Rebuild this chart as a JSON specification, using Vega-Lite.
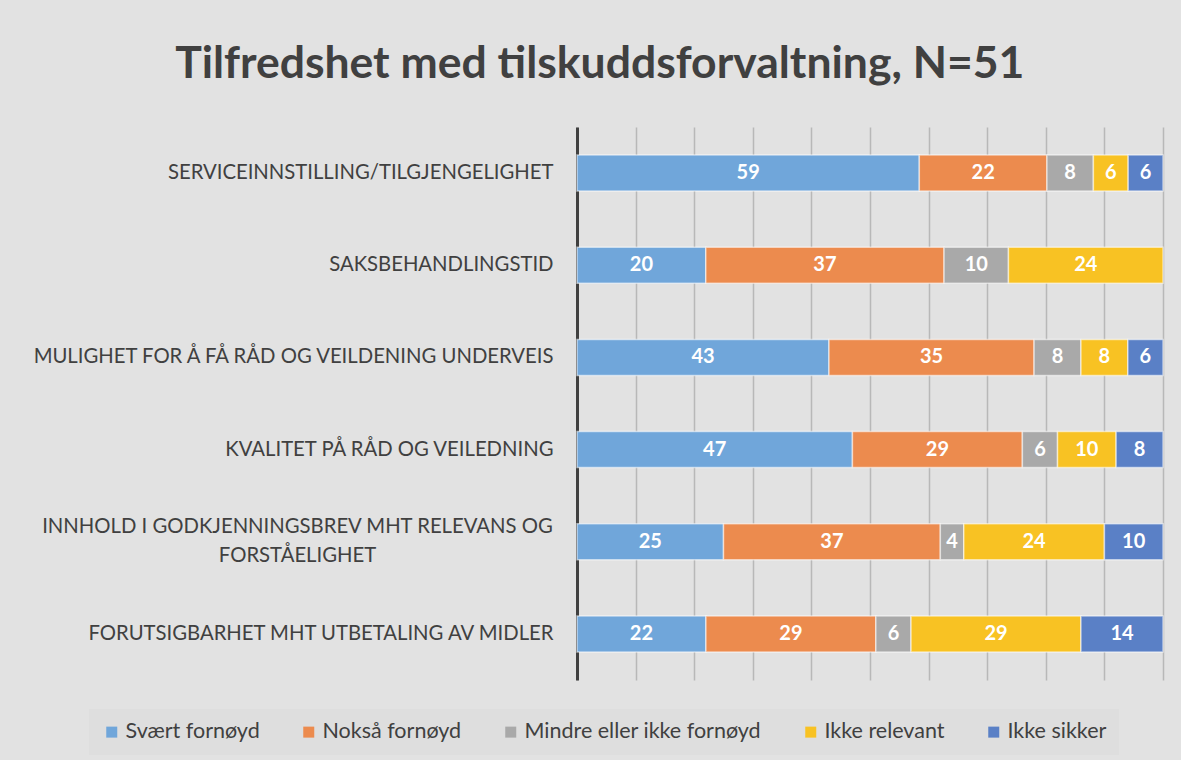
{
  "$schema": "https://vega.github.io/schema/vega-lite/v6.json",
  "width": 586,
  "height": 553,
  "autosize": {"type": "none"},
  "padding": {"left": 577, "top": 127, "right": 18, "bottom": 80},
  "background": "#e2e2e2",
  "title": {
    "text": "Tilfredshet med tilskuddsforvaltning, N=51",
    "font": "Lato",
    "fontSize": 44.5,
    "fontWeight": "bold",
    "color": "#404040",
    "anchor": "middle",
    "frame": "bounds",
    "baseline": "alphabetic",
    "offset": 5,
    "dx": 3
  },
  "data": {
    "values": [
      {"kategori": "SERVICEINNSTILLING/TILGJENGELIGHET", "svar": "Svært fornøyd", "rekkefolge": 1, "verdi": 59},
      {"kategori": "SERVICEINNSTILLING/TILGJENGELIGHET", "svar": "Nokså fornøyd", "rekkefolge": 2, "verdi": 22},
      {"kategori": "SERVICEINNSTILLING/TILGJENGELIGHET", "svar": "Mindre eller ikke fornøyd", "rekkefolge": 3, "verdi": 8},
      {"kategori": "SERVICEINNSTILLING/TILGJENGELIGHET", "svar": "Ikke relevant", "rekkefolge": 4, "verdi": 6},
      {"kategori": "SERVICEINNSTILLING/TILGJENGELIGHET", "svar": "Ikke sikker", "rekkefolge": 5, "verdi": 6},
      {"kategori": "SAKSBEHANDLINGSTID ", "svar": "Svært fornøyd", "rekkefolge": 1, "verdi": 20},
      {"kategori": "SAKSBEHANDLINGSTID ", "svar": "Nokså fornøyd", "rekkefolge": 2, "verdi": 37},
      {"kategori": "SAKSBEHANDLINGSTID ", "svar": "Mindre eller ikke fornøyd", "rekkefolge": 3, "verdi": 10},
      {"kategori": "SAKSBEHANDLINGSTID ", "svar": "Ikke relevant", "rekkefolge": 4, "verdi": 24},
      {"kategori": "MULIGHET FOR Å FÅ RÅD OG VEILDENING UNDERVEIS", "svar": "Svært fornøyd", "rekkefolge": 1, "verdi": 43},
      {"kategori": "MULIGHET FOR Å FÅ RÅD OG VEILDENING UNDERVEIS", "svar": "Nokså fornøyd", "rekkefolge": 2, "verdi": 35},
      {"kategori": "MULIGHET FOR Å FÅ RÅD OG VEILDENING UNDERVEIS", "svar": "Mindre eller ikke fornøyd", "rekkefolge": 3, "verdi": 8},
      {"kategori": "MULIGHET FOR Å FÅ RÅD OG VEILDENING UNDERVEIS", "svar": "Ikke relevant", "rekkefolge": 4, "verdi": 8},
      {"kategori": "MULIGHET FOR Å FÅ RÅD OG VEILDENING UNDERVEIS", "svar": "Ikke sikker", "rekkefolge": 5, "verdi": 6},
      {"kategori": "KVALITET PÅ RÅD OG VEILEDNING", "svar": "Svært fornøyd", "rekkefolge": 1, "verdi": 47},
      {"kategori": "KVALITET PÅ RÅD OG VEILEDNING", "svar": "Nokså fornøyd", "rekkefolge": 2, "verdi": 29},
      {"kategori": "KVALITET PÅ RÅD OG VEILEDNING", "svar": "Mindre eller ikke fornøyd", "rekkefolge": 3, "verdi": 6},
      {"kategori": "KVALITET PÅ RÅD OG VEILEDNING", "svar": "Ikke relevant", "rekkefolge": 4, "verdi": 10},
      {"kategori": "KVALITET PÅ RÅD OG VEILEDNING", "svar": "Ikke sikker", "rekkefolge": 5, "verdi": 8},
      {"kategori": "INNHOLD I GODKJENNINGSBREV MHT RELEVANS OG FORSTÅELIGHET", "svar": "Svært fornøyd", "rekkefolge": 1, "verdi": 25},
      {"kategori": "INNHOLD I GODKJENNINGSBREV MHT RELEVANS OG FORSTÅELIGHET", "svar": "Nokså fornøyd", "rekkefolge": 2, "verdi": 37},
      {"kategori": "INNHOLD I GODKJENNINGSBREV MHT RELEVANS OG FORSTÅELIGHET", "svar": "Mindre eller ikke fornøyd", "rekkefolge": 3, "verdi": 4},
      {"kategori": "INNHOLD I GODKJENNINGSBREV MHT RELEVANS OG FORSTÅELIGHET", "svar": "Ikke relevant", "rekkefolge": 4, "verdi": 24},
      {"kategori": "INNHOLD I GODKJENNINGSBREV MHT RELEVANS OG FORSTÅELIGHET", "svar": "Ikke sikker", "rekkefolge": 5, "verdi": 10},
      {"kategori": "FORUTSIGBARHET MHT UTBETALING AV MIDLER", "svar": "Svært fornøyd", "rekkefolge": 1, "verdi": 22},
      {"kategori": "FORUTSIGBARHET MHT UTBETALING AV MIDLER", "svar": "Nokså fornøyd", "rekkefolge": 2, "verdi": 29},
      {"kategori": "FORUTSIGBARHET MHT UTBETALING AV MIDLER", "svar": "Mindre eller ikke fornøyd", "rekkefolge": 3, "verdi": 6},
      {"kategori": "FORUTSIGBARHET MHT UTBETALING AV MIDLER", "svar": "Ikke relevant", "rekkefolge": 4, "verdi": 29},
      {"kategori": "FORUTSIGBARHET MHT UTBETALING AV MIDLER", "svar": "Ikke sikker", "rekkefolge": 5, "verdi": 14}
    ]
  },
  "encoding": {
    "y": {
      "field": "kategori",
      "type": "nominal",
      "sort": null,
      "scale": {"paddingInner": 0.61, "paddingOuter": 0.305},
      "axis": {
        "title": null,
        "ticks": false,
        "domainColor": "#404040",
        "domainWidth": 3,
        "labelFont": "Lato",
        "labelFontSize": 20.3,
        "labelColor": "#404040",
        "labelLimit": 700,
        "labelLineHeight": 29,
        "labelExpr": "datum.label == 'INNHOLD I GODKJENNINGSBREV MHT RELEVANS OG FORSTÅELIGHET' ? ['INNHOLD I GODKJENNINGSBREV MHT RELEVANS OG', 'FORSTÅELIGHET'] : datum.label",
        "labelAlign": {"condition": {"test": "datum.value == 'INNHOLD I GODKJENNINGSBREV MHT RELEVANS OG FORSTÅELIGHET'", "value": "center"}, "value": "right"},
        "labelPadding": {"condition": {"test": "datum.value == 'INNHOLD I GODKJENNINGSBREV MHT RELEVANS OG FORSTÅELIGHET'", "value": 280}, "value": 24},
        "labelOffset": {"condition": {"test": "datum.value == 'INNHOLD I GODKJENNINGSBREV MHT RELEVANS OG FORSTÅELIGHET'", "value": -14.5}, "value": 0}
      }
    }
  },
  "layer": [
    {
      "mark": {"type": "bar", "stroke": "#ffffff", "strokeOpacity": 0.55, "strokeWidth": 1.5},
      "encoding": {
        "x": {
          "field": "verdi",
          "type": "quantitative",
          "stack": "normalize",
          "scale": {"domain": [0, 1], "nice": false},
          "axis": {
            "title": null,
            "values": [0, 0.1, 0.2, 0.3, 0.4, 0.5, 0.6, 0.7, 0.8, 0.9, 1],
            "labels": false,
            "ticks": false,
            "domain": false,
            "grid": true,
            "gridColor": "#b8b8b8",
            "gridWidth": 1.5
          }
        },
        "color": {
          "field": "svar",
          "type": "nominal",
          "sort": ["Svært fornøyd", "Nokså fornøyd", "Mindre eller ikke fornøyd", "Ikke relevant", "Ikke sikker"],
          "scale": {
            "domain": ["Svært fornøyd", "Nokså fornøyd", "Mindre eller ikke fornøyd", "Ikke relevant", "Ikke sikker"],
            "range": ["#70a6da", "#ec8b4e", "#a9a9a9", "#f8c223", "#5a80c6"]
          },
          "legend": {
            "title": null,
            "orient": "none",
            "direction": "horizontal",
            "legendX": -488,
            "legendY": 582,
            "fillColor": "#dedede",
            "padding": 12,
            "symbolType": "square",
            "symbolSize": 121,
            "symbolStrokeWidth": 0,
            "symbolOpacity": 1,
            "labelFont": "Lato",
            "labelFontSize": 21.5,
            "labelColor": "#404040",
            "labelOffset": 3,
            "labelLimit": 400,
            "columnPadding": 38
          }
        },
        "order": {"field": "rekkefolge", "type": "quantitative"}
      }
    },
    {
      "mark": {"type": "text", "color": "#ffffff", "font": "Lato", "fontWeight": "bold", "fontSize": 20, "baseline": "middle", "align": "center"},
      "encoding": {
        "x": {"field": "verdi", "type": "quantitative", "stack": "normalize", "bandPosition": 0.5},
        "text": {"field": "verdi", "type": "quantitative"},
        "order": {"field": "rekkefolge", "type": "quantitative"}
      }
    }
  ],
  "config": {
    "view": {"stroke": null}
  }
}
